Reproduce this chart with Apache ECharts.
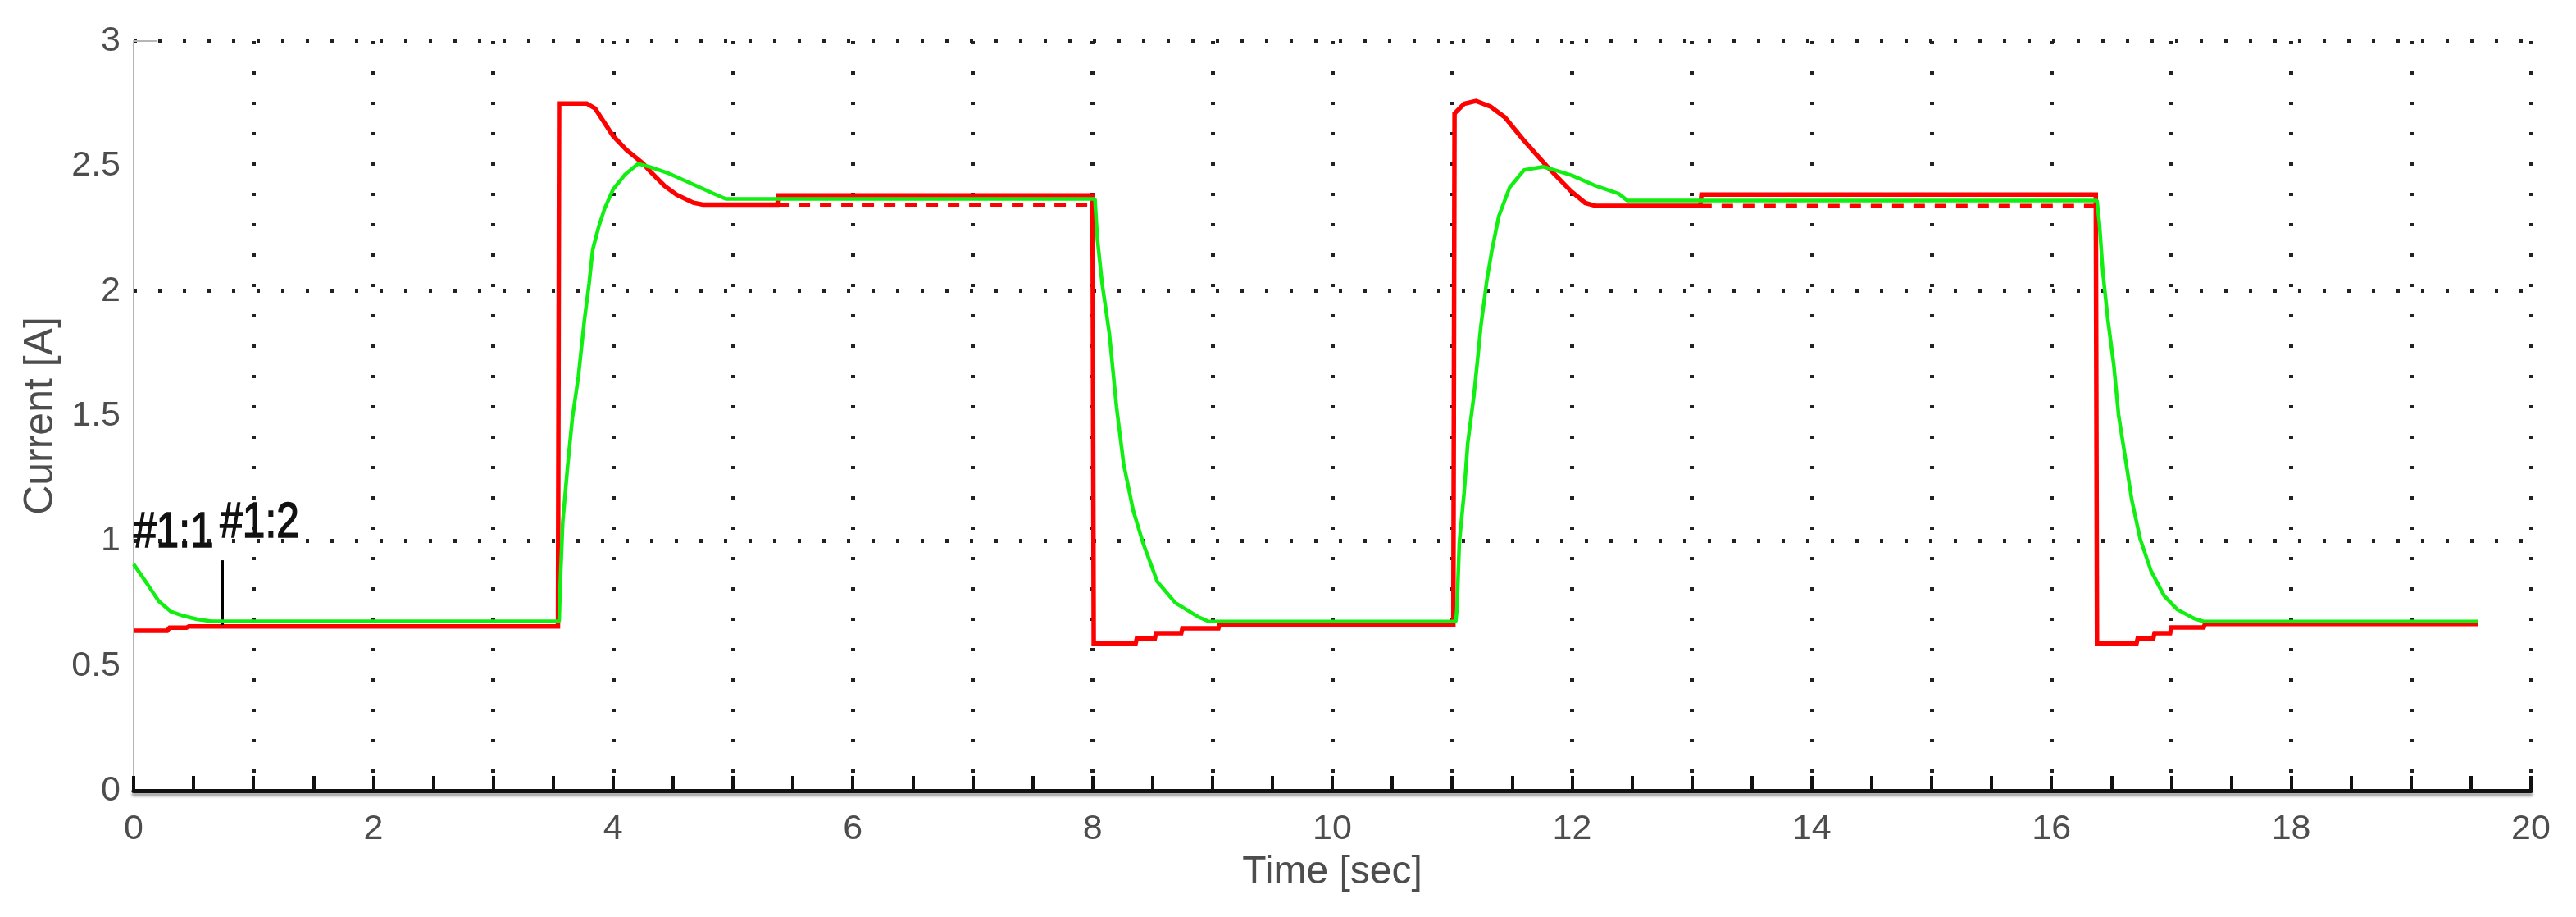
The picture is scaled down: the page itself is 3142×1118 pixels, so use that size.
<!DOCTYPE html>
<html>
<head>
<meta charset="utf-8">
<script src="https://cdn.jsdelivr.net/npm/echarts@6/dist/echarts.min.js"></script>
<style>html,body{margin:0;padding:0;background:#fff}#c{width:3142px;height:1118px}</style>
</head>
<body>
<div id="c"></div>
<script>
// ---- tick labels ----
const xTickLabels = ['0','2','4','6','8','10','12','14','16','18','20'];
const yTickLabels = ['0','0.5','1','1.5','2','2.5','3'];

// ---- red trace (#1:1) ----
const redT = [0, 0.28, 0.30, 0.44, 0.46, 3.54, 3.55, 3.78, 3.85, 4.0, 4.11, 4.25, 4.32, 4.43, 4.53, 4.67, 4.75, 5.37, 5.38, 8.0, 8.01, 8.36, 8.37, 8.52, 8.53, 8.74, 8.75, 9.05, 9.06, 11.01, 11.02, 11.1, 11.2, 11.32, 11.44, 11.59, 11.79, 11.99, 12.11, 12.2, 13.07, 13.08, 16.37, 16.38, 16.71, 16.72, 16.85, 16.86, 16.99, 17.0, 17.27, 17.28, 19.56];
const redV = [0.64, 0.64, 0.652, 0.652, 0.657, 0.657, 2.75, 2.75, 2.73, 2.62, 2.565, 2.51, 2.473, 2.42, 2.385, 2.353, 2.345, 2.345, 2.382, 2.382, 0.59, 0.59, 0.61, 0.61, 0.63, 0.63, 0.65, 0.65, 0.665, 0.665, 2.71, 2.749, 2.76, 2.738, 2.695, 2.607, 2.499, 2.40, 2.352, 2.34, 2.34, 2.385, 2.385, 0.59, 0.59, 0.61, 0.61, 0.63, 0.63, 0.653, 0.653, 0.667, 0.667];
// lower level of the red trace's quantisation flicker (drawn dashed)
const redLowT = [5.37, 8.0, 10.0, 13.07, 16.37];
const redLowV = [2.345, 2.345, null, 2.34, 2.34];

// ---- green trace (#1:2) ----
const greenT = [0, 0.11, 0.21, 0.31, 0.42, 0.53, 0.65, 3.55, 3.56, 3.58, 3.62, 3.66, 3.71, 3.76, 3.80, 3.83, 3.88, 3.93, 4.00, 4.10, 4.21, 4.31, 4.45, 4.66, 4.83, 4.94, 8.02, 8.04, 8.08, 8.14, 8.20, 8.26, 8.34, 8.42, 8.54, 8.69, 8.88, 8.97, 11.03, 11.04, 11.06, 11.10, 11.13, 11.18, 11.21, 11.24, 11.29, 11.33, 11.39, 11.48, 11.60, 11.76, 11.88, 12.00, 12.20, 12.39, 12.46, 16.38, 16.40, 16.43, 16.47, 16.52, 16.56, 16.62, 16.67, 16.74, 16.83, 16.94, 17.05, 17.19, 17.27, 19.56];
const greenV = [0.907, 0.83, 0.758, 0.717, 0.699, 0.686, 0.678, 0.678, 0.84, 1.075, 1.295, 1.49, 1.655, 1.88, 2.03, 2.165, 2.257, 2.33, 2.406, 2.466, 2.509, 2.496, 2.473, 2.428, 2.391, 2.368, 2.368, 2.21, 2.03, 1.83, 1.535, 1.306, 1.12, 0.993, 0.837, 0.752, 0.696, 0.677, 0.677, 0.725, 0.993, 1.193, 1.39, 1.575, 1.715, 1.86, 2.044, 2.158, 2.30, 2.414, 2.484, 2.497, 2.48, 2.462, 2.42, 2.389, 2.362, 2.362, 2.27, 2.07, 1.887, 1.704, 1.504, 1.32, 1.164, 1.008, 0.88, 0.78, 0.725, 0.689, 0.677, 0.677];

// ---- cursor annotations ----
const markerNames = ['#1:1', '#1:2'];
const markerT = [0, 0.72];
const markerLabelV = [1.031, 1.07];
const cursorT = 0.74;
const cursorV = [0.663, 0.922];

const FONT = "'Liberation Sans', Arial, sans-serif";
const pairs = (t, v) => t.map((x, i) => [x, v[i] === null ? '-' : v[i]]);

const chart = echarts.init(document.getElementById('c'), null, {renderer: 'canvas'});
chart.setOption({
  animation: false,
  backgroundColor: '#ffffff',
  grid: {left: 163, right: 55, top: 50, bottom: 154, containLabel: false},
  xAxis: [
    {
      type: 'value', min: 0, max: 20, interval: 0.5, position: 'bottom',
      axisLine: {show: true, onZero: false, lineStyle: {color: '#111', width: 5, shadowColor: 'rgba(0,0,0,0.35)', shadowOffsetY: 4, shadowBlur: 3}},
      axisTick: {show: true, inside: true, length: 18, lineStyle: {color: '#111', width: 4}},
      axisLabel: {
        fontSize: 43, color: '#4d4d4d', margin: 26, fontFamily: FONT,
        formatter: v => { const s = String(v); return xTickLabels.includes(s) ? s : ''; }
      },
      splitLine: {show: false},
      name: 'Time [sec]', nameLocation: 'middle', nameGap: 76,
      nameTextStyle: {fontSize: 48, color: '#4d4d4d', fontFamily: FONT}
    },
    {
      type: 'value', min: 0, max: 20, interval: 1, position: 'top',
      axisLine: {show: false}, axisTick: {show: false}, axisLabel: {show: false},
      splitLine: {show: true, showMinLine: false, lineStyle: {color: '#222', width: 5, type: [4, 33], cap: 'butt'}}
    }
  ],
  yAxis: [
    {
      type: 'value', min: 0, max: 3, interval: 0.5, position: 'left',
      axisLine: {show: true, onZero: false, lineStyle: {color: '#b5b5b5', width: 2}},
      axisTick: {show: false},
      axisLabel: {
        fontSize: 43, color: '#4d4d4d', margin: 16, fontFamily: FONT,
        formatter: v => { const s = String(v); return yTickLabels.includes(s) ? s : ''; }
      },
      splitLine: {show: false},
      name: 'Current [A]', nameLocation: 'middle', nameGap: 88, nameRotate: 90,
      nameTextStyle: {fontSize: 50, color: '#4d4d4d', fontFamily: FONT}
    },
    {
      type: 'value', min: 0, max: 3, interval: 1, position: 'left',
      axisLine: {show: false}, axisTick: {show: false}, axisLabel: {show: false},
      splitLine: {show: true, showMinLine: false, lineStyle: {color: '#222', width: 5, type: [4, 26], cap: 'butt'}}
    }
  ],
  series: [
    {
      name: 'red-low', type: 'line', xAxisIndex: 0, yAxisIndex: 0, showSymbol: false, symbol: 'none',
      data: pairs(redLowT, redLowV), connectNulls: false, z: 3,
      lineStyle: {color: '#ff0000', width: 5, type: [14, 12]}
    },
    {
      name: '#1:1', type: 'line', xAxisIndex: 0, yAxisIndex: 0, showSymbol: false, symbol: 'none',
      data: pairs(redT, redV), z: 4,
      lineStyle: {color: '#ff0000', width: 5.5, join: 'miter'}
    },
    {
      name: '#1:2', type: 'line', xAxisIndex: 0, yAxisIndex: 0, showSymbol: false, symbol: 'none',
      data: pairs(greenT, greenV), z: 5,
      lineStyle: {color: '#11ee11', width: 4.5}
    },
    {
      name: 'cursors', type: 'line', xAxisIndex: 0, yAxisIndex: 0, data: [], z: 6,
      markLine: {
        silent: true, symbol: ['none', 'none'], animation: false,
        label: {show: false},
        data: [
          [{coord: [cursorT, cursorV[0]], lineStyle: {color: '#000', width: 3, type: 'solid'}},
           {coord: [cursorT, cursorV[1]]}],
          [{coord: [0, 3], lineStyle: {color: '#b5b5b5', width: 2, type: 'solid'}},
           {coord: [0.2, 3]}]
        ]
      }
    }
  ]
});

// Cursor labels: real text placed through the chart's own axes (condensed like the original)
const labelGraphics = markerNames.map((n, i) => {
  const p = chart.convertToPixel({xAxisIndex: 0, yAxisIndex: 0}, [markerT[i], markerLabelV[i]]);
  return {
    type: 'text', x: p[0], y: p[1], scaleX: 0.8, z: 100,
    style: {
      text: n, fill: '#111', stroke: '#111', lineWidth: 1.6,
      font: "62px 'Liberation Sans', Arial, sans-serif",
      align: 'left', verticalAlign: 'middle', textAlign: 'left', textVerticalAlign: 'middle'
    }
  };
});
chart.setOption({graphic: labelGraphics});
</script>
</body>
</html>
